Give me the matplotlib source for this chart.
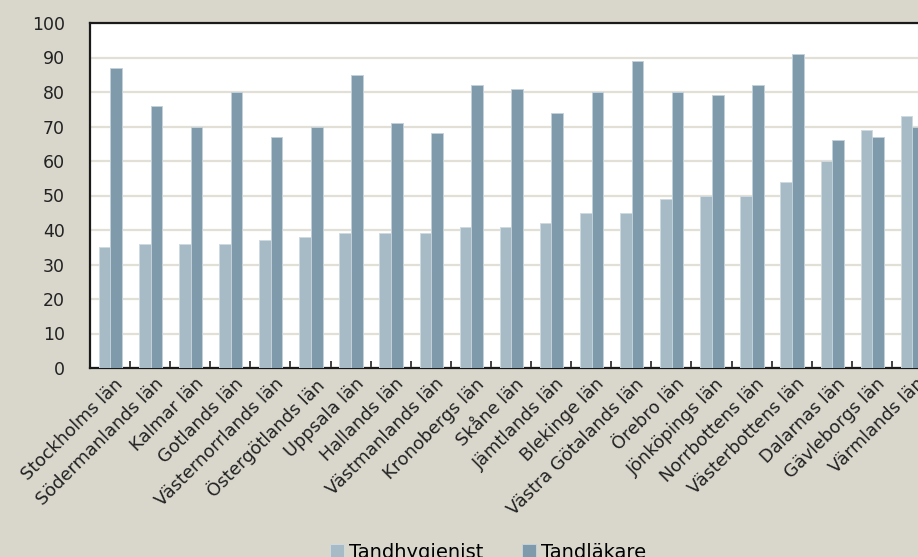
import matplotlib
matplotlib.use("Agg")
import matplotlib.pyplot as plt
import numpy as np
from matplotlib.ticker import FixedLocator

counties = [
    "Stockholms län", "Södermanlands län", "Kalmar län", "Gotlands län",
    "Västernorrlands län", "Östergötlands län", "Uppsala län", "Hallands län",
    "Västmanlands län", "Kronobergs län", "Skåne län", "Jämtlands län",
    "Blekinge län", "Västra Götalands län", "Örebro län", "Jönköpings län",
    "Norrbottens län", "Västerbottens län", "Dalarnas län", "Gävleborgs län",
    "Värmlands län",
]
tandhygienist = [35, 36, 36, 36, 37, 38, 39, 39, 39, 41, 41, 42, 45, 45,
                 49, 50, 50, 54, 60, 69, 73]
tandlakare = [87, 76, 70, 80, 67, 70, 85, 71, 68, 82, 81, 74, 80, 89,
              80, 79, 82, 91, 66, 67, 70]
y_ticks = list(range(0, 101, 10))

BG = "#d9d7cc"
LIGHT = "#a7bbc6"
DARK = "#7f9aab"
GRID = "#e2dfd7"

plt.rcParams["font.family"] = ["DejaVu Sans"]

fig = plt.figure(figsize=(9.18, 5.57), dpi=100, facecolor=BG)
ax = fig.add_axes([90 / 918, 1 - 368 / 557, 842 / 918, 345 / 557])
ax.set_facecolor("white")

x = np.arange(len(counties))
w = 0.29
ax.bar(x - 0.135, tandhygienist, width=w, color=LIGHT, edgecolor="#cfdae0",
       linewidth=0.7, label="Tandhygienist", zorder=3)
ax.bar(x + 0.155, tandlakare, width=w, color=DARK, edgecolor="#c3d1da",
       linewidth=0.7, label="Tandläkare", zorder=3)

ax.set_xlim(-0.5, len(counties) - 0.5)
ax.set_ylim(0, 100)
ax.yaxis.set_major_locator(FixedLocator(y_ticks))
ax.grid(axis="y", color=GRID, linewidth=1.6, zorder=0)
ax.set_axisbelow(True)

ax.set_xticks(x + 0.1)
ax.set_xticklabels(counties, rotation=45, ha="right", va="top",
                   rotation_mode="anchor", fontsize=12.8, color="#222222")
ax.xaxis.set_minor_locator(FixedLocator(x[:-1] + 0.5))
ax.tick_params(axis="x", which="major", length=0, pad=5)
ax.tick_params(axis="x", which="minor", direction="in", length=5,
               width=1.2, color="#222222")
ax.tick_params(axis="y", length=0, pad=18, labelsize=12.5,
               labelcolor="#222222")

for side in ("left", "bottom", "top", "right"):
    ax.spines[side].set_color("#1a1a1a")
    ax.spines[side].set_linewidth(1.6)

fig.legend(loc="upper center", bbox_to_anchor=(488 / 918, 1 - 525 / 557),
           ncol=2, frameon=False, fontsize=14, handlelength=0.7,
           handleheight=0.7, handletextpad=0.25, columnspacing=2.0)

fig.savefig("out.png", dpi=100, facecolor=BG)
